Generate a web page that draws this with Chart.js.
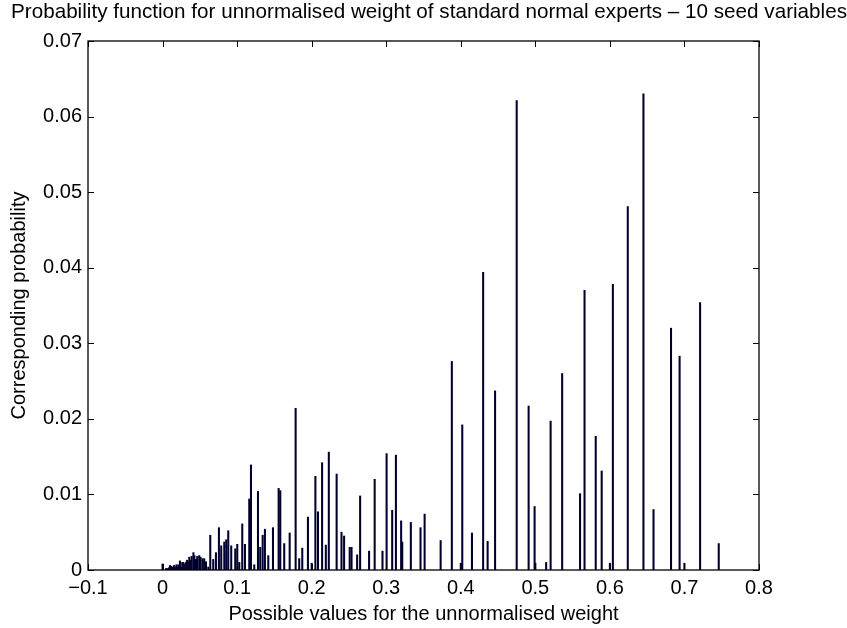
<!DOCTYPE html>
<html>
<head>
<meta charset="utf-8">
<title>Unnormalised weight probability</title>
<script src="https://cdn.jsdelivr.net/npm/chart.js@4.4.0/dist/chart.umd.min.js"></script>
<style>
  html, body { margin: 0; padding: 0; background: #fff; }
  canvas { display: block; }
</style>
</head>
<body>
<canvas id="weightChart" width="847" height="628"></canvas>
<script>
// Possible values of the unnormalised weight
const weights = [
  0.000, 0.0046, 0.0063, 0.0086, 0.0099, 0.0113, 0.0135, 0.0153, 0.0166, 0.0186,
  0.0199, 0.0213, 0.0233, 0.0247, 0.0264, 0.0278, 0.0300, 0.0314, 0.0327, 0.0345,
  0.0358, 0.0380, 0.0390, 0.0414, 0.0427, 0.0448, 0.0465, 0.0492, 0.0511, 0.0538,
  0.0559, 0.0582, 0.0613, 0.0640, 0.0680, 0.0716, 0.0756, 0.0787, 0.0828, 0.0854,
  0.0881, 0.0921, 0.0975, 0.1002, 0.1029, 0.1069, 0.1105, 0.1163, 0.1186, 0.1230,
  0.1280, 0.1310, 0.1343, 0.1373, 0.1418, 0.1481, 0.1557, 0.1579, 0.1632, 0.1705,
  0.1785, 0.1833, 0.1874, 0.1950, 0.2000, 0.2050, 0.2085, 0.2140, 0.2190, 0.2230,
  0.2335, 0.2400, 0.2435, 0.2510, 0.2535, 0.2610, 0.2650, 0.2770, 0.2845, 0.2950,
  0.3005, 0.3080, 0.3130, 0.3200, 0.3215, 0.3330, 0.3460, 0.3515, 0.3730, 0.3880,
  0.4000, 0.4020, 0.4150, 0.4300, 0.4360, 0.4460, 0.4750, 0.4910, 0.4990, 0.5000,
  0.5145, 0.5205, 0.5360, 0.5600, 0.5660, 0.5810, 0.5890, 0.6000, 0.6040, 0.6240,
  0.6450, 0.6585, 0.6820, 0.6935, 0.7000, 0.7210, 0.7460
];

// Corresponding probability of each weight
const probs = [
  0.0008, 0.0002, 0.0002, 0.0003, 0.0006, 0.0005, 0.0004, 0.0006, 0.0004, 0.0007,
  0.0004, 0.0007, 0.0012, 0.0004, 0.0010, 0.0010, 0.0008, 0.0010, 0.0013, 0.0011,
  0.0017, 0.0013, 0.0018, 0.0023, 0.0019, 0.0014, 0.0018, 0.0019, 0.0017, 0.0015,
  0.0015, 0.0011, 0.0004, 0.0046, 0.0014, 0.0023, 0.0056, 0.0032, 0.0037, 0.0040,
  0.0052, 0.0032, 0.0028, 0.0034, 0.0010, 0.0061, 0.0034, 0.0094, 0.0139, 0.0007,
  0.0104, 0.0030, 0.0046, 0.0054, 0.0019, 0.0056, 0.0108, 0.0105, 0.0035, 0.0049,
  0.0214, 0.0015, 0.0029, 0.0070, 0.0009, 0.0124, 0.0077, 0.0142, 0.0033, 0.0156,
  0.0127, 0.0050, 0.0045, 0.0030, 0.0030, 0.0020, 0.0098, 0.0025, 0.0120, 0.0025,
  0.0154, 0.0079, 0.0152, 0.0065, 0.0037, 0.0063, 0.0056, 0.0074, 0.0039, 0.0276,
  0.0009, 0.0192, 0.0049, 0.0394, 0.0038, 0.0237, 0.0621, 0.0217, 0.0084, 0.0009,
  0.0010, 0.0197, 0.0260, 0.0101, 0.0370, 0.0177, 0.0131, 0.0009, 0.0378, 0.0481,
  0.0630, 0.0080, 0.0320, 0.0283, 0.0009, 0.0354, 0.0035
];

const xTickValues = [-0.1, 0, 0.1, 0.2, 0.3, 0.4, 0.5, 0.6, 0.7, 0.8];
const yTickValues = [0, 0.01, 0.02, 0.03, 0.04, 0.05, 0.06, 0.07];

const FONT = '"Liberation Sans", Arial, Helvetica, sans-serif';

// Formato de las etiquetas: signo menos tipografico y sin ceros sobrantes
function tickLabel(v) {
  const s = String(Number(Math.abs(v).toFixed(3)));
  return v < 0 ? '\u2212' + s : s;
}

// Caja del eje con marcas hacia dentro en los cuatro lados
const boxTicks = {
  id: 'boxTicks',
  afterDatasetsDraw(chart) {
    const { ctx, chartArea: a, scales } = chart;
    const len = 6;
    ctx.save();
    ctx.strokeStyle = '#000';
    ctx.lineWidth = 1;
    ctx.beginPath();
    scales.x.ticks.forEach(t => {
      const px = Math.round(scales.x.getPixelForValue(t.value)) + 0.5;
      ctx.moveTo(px, a.bottom); ctx.lineTo(px, a.bottom - len);
      ctx.moveTo(px, a.top); ctx.lineTo(px, a.top + len);
    });
    scales.y.ticks.forEach(t => {
      const py = Math.round(scales.y.getPixelForValue(t.value)) + 0.5;
      ctx.moveTo(a.left, py); ctx.lineTo(a.left + len, py);
      ctx.moveTo(a.right, py); ctx.lineTo(a.right - len, py);
    });
    ctx.stroke();
    ctx.lineWidth = 1.3;
    ctx.strokeRect(a.left, a.top, a.right - a.left, a.bottom - a.top);
    ctx.restore();
  }
};

const ctx = document.getElementById('weightChart').getContext('2d');
new Chart(ctx, {
  type: 'bar',
  data: {
    datasets: [{
      data: weights.map((w, i) => ({ x: w, y: probs[i] })),
      backgroundColor: '#00002e',
      borderWidth: 0,
      barThickness: 1.4
    }]
  },
  options: {
    responsive: false,
    animation: false,
    // el titulo queda algo desplazado a la derecha y se corta en el borde
    layout: { padding: { left: 11, right: 0, top: 0, bottom: 0 } },
    plugins: {
      legend: { display: false },
      tooltip: { enabled: false },
      title: {
        display: true,
        text: 'Probability function for unnormalised weight of standard normal experts \u2013 10 seed variables',
        color: '#000',
        font: { family: FONT, size: 21, weight: 'normal' },
        padding: { top: 0, bottom: 15.8 }
      }
    },
    scales: {
      x: {
        type: 'linear',
        min: -0.1,
        max: 0.8,
        offset: false,
        afterBuildTicks: s => { s.ticks = xTickValues.map(v => ({ value: v })); },
        afterFit: s => { s.height = 58; },
        grid: { display: false, drawTicks: false, offset: false },
        border: { display: false },
        ticks: {
          color: '#000',
          padding: 6,
          maxRotation: 0,
          autoSkip: false,
          font: { family: FONT, size: 20 },
          callback: v => tickLabel(v)
        },
        title: {
          display: true,
          text: 'Possible values for the unnormalised weight',
          color: '#000',
          font: { family: FONT, size: 20 },
          padding: { top: 0, bottom: 2 }
        }
      },
      y: {
        type: 'linear',
        position: 'left',
        min: 0,
        max: 0.07,
        afterBuildTicks: s => { s.ticks = yTickValues.map(v => ({ value: v })); },
        afterFit: s => { s.width = 77; },
        grid: { display: false, drawTicks: false },
        border: { display: false },
        ticks: {
          color: '#000',
          padding: 6,
          autoSkip: false,
          font: { family: FONT, size: 20 },
          callback: v => tickLabel(v)
        },
        title: {
          display: true,
          text: 'Corresponding probability',
          color: '#000',
          font: { family: FONT, size: 20 },
          padding: { top: -4, bottom: 0 }
        }
      },
      // margen derecho vacio, igual que en la figura original
      yRight: {
        type: 'linear',
        position: 'right',
        min: 0,
        max: 0.07,
        afterFit: s => { s.width = 88; },
        grid: { display: false, drawTicks: false },
        border: { display: false },
        ticks: { display: false }
      }
    }
  },
  plugins: [boxTicks]
});
</script>
</body>
</html>
